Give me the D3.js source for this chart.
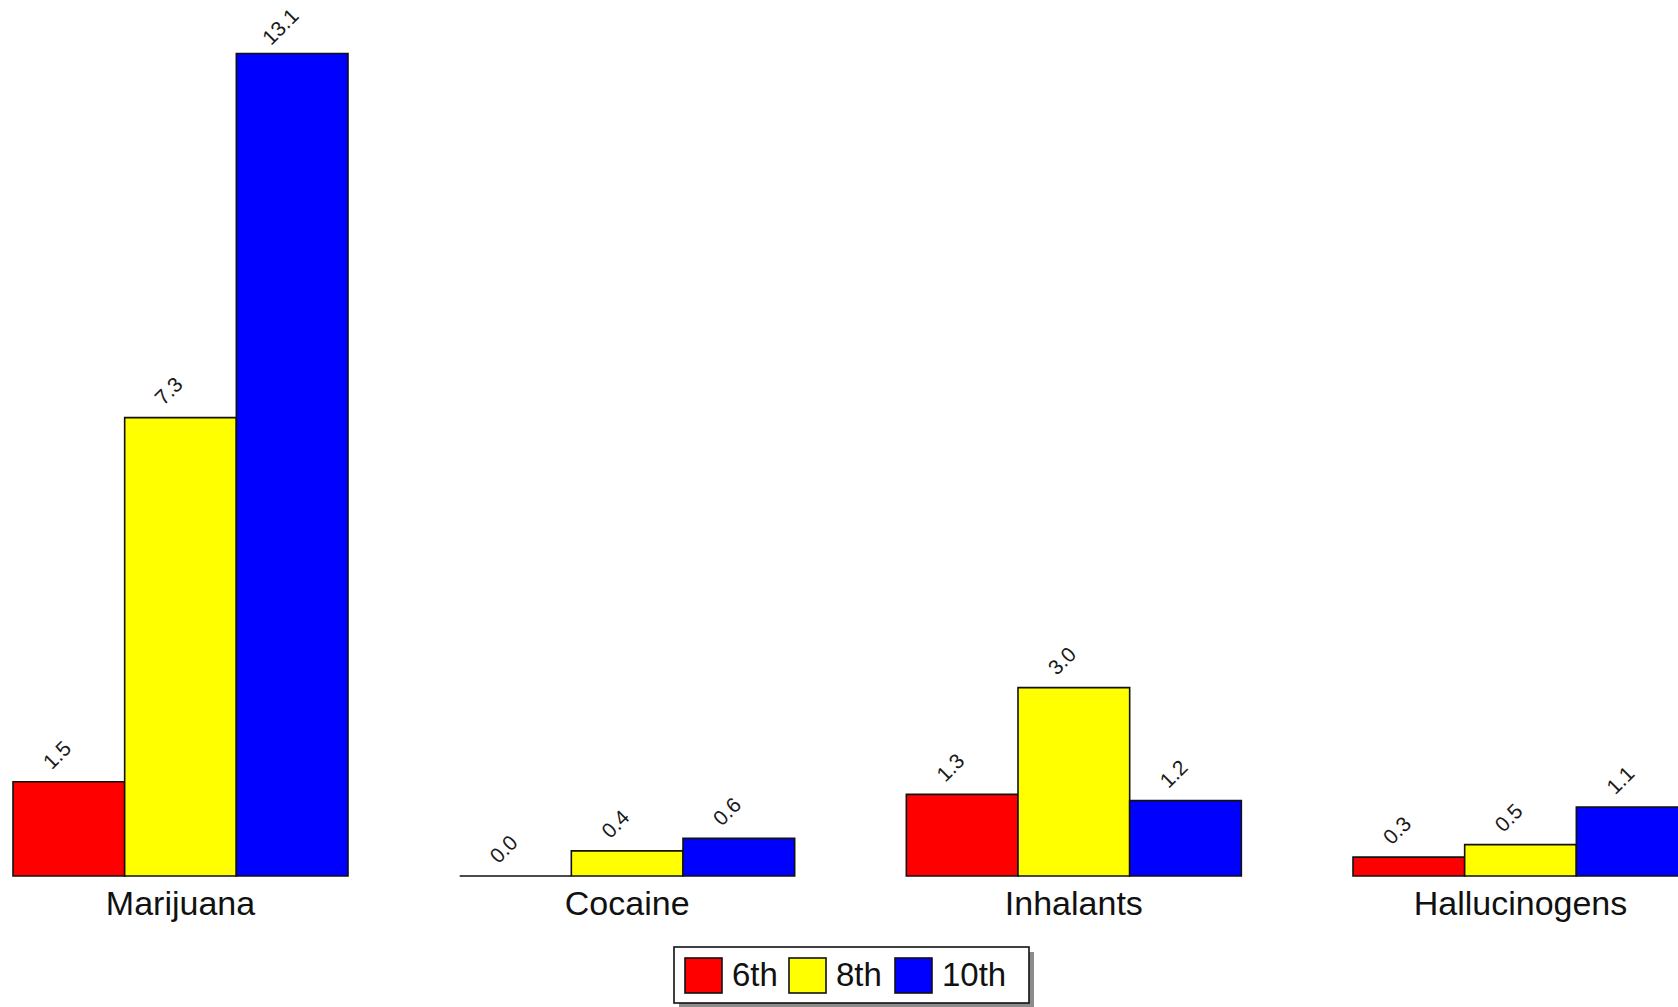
<!DOCTYPE html>
<html>
<head>
<meta charset="utf-8">
<script src="https://cdn.jsdelivr.net/npm/d3@7"></script>
<style>
  html, body { margin: 0; padding: 0; background: #fff; }
  svg { display: block; }
  text { font-family: "Liberation Sans", Arial, sans-serif; }
</style>
</head>
<body>
<svg id="chart" width="1678" height="1007"></svg>
<script>
// Substance use by grade (percent)
const categories = ["Marijuana", "Cocaine", "Inhalants", "Hallucinogens"];
const grades = ["6th", "8th", "10th"];
const grade6 = [1.5, 0.0, 1.3, 0.3];
const grade8 = [7.3, 0.4, 3.0, 0.5];
const grade10 = [13.1, 0.6, 1.2, 1.1];
const colors = ["#ff0000", "#ffff00", "#0000ff"];

const series = [grade6, grade8, grade10];
const rows = categories.map((c, i) => ({
  category: c,
  values: grades.map((g, j) => ({ grade: g, value: series[j][i], color: colors[j] }))
}));

const svg = d3.select("#chart");

const x0 = d3.scaleBand()
  .domain(categories)
  .range([13, 1688])
  .paddingInner(0.25)
  .paddingOuter(0);

const x1 = d3.scaleBand()
  .domain(grades)
  .range([0, x0.bandwidth()])
  .padding(0);

const y = d3.scaleLinear()
  .domain([0, d3.max(grade10)])
  .range([876, 53.5]);

const groups = svg.append("g")
  .selectAll("g")
  .data(rows)
  .join("g")
  .attr("transform", d => `translate(${x0(d.category)},0)`);

// bars drawn as closed paths so a zero value still shows its outline
groups.selectAll("path.bar")
  .data(d => d.values)
  .join("path")
  .attr("class", "bar")
  .attr("d", d => {
    const xa = x1(d.grade), xb = xa + x1.bandwidth();
    const y0 = y(0), yv = y(d.value);
    return `M${xa},${y0}V${yv}H${xb}V${y0}Z`;
  })
  .attr("fill", d => d.color)
  .attr("stroke", "#111")
  .attr("stroke-width", 1.6);

// value labels, rotated
groups.selectAll("text.val")
  .data(d => d.values)
  .join("text")
  .attr("class", "val")
  .attr("transform", d => {
    const cx = x1(d.grade) + x1.bandwidth() / 2 - 12;
    const cy = y(d.value) - 27;
    return `translate(${cx},${cy}) rotate(-45)`;
  })
  .attr("text-anchor", "middle")
  .attr("dominant-baseline", "central")
  .attr("font-size", 21)
  .attr("fill", "#1a1a1a")
  .text(d => d3.format(".1f")(d.value));

// category axis labels
const xAxis = d3.axisBottom(x0).tickSize(0).tickPadding(0);
const axisG = svg.append("g")
  .attr("transform", `translate(0,${y(0)})`)
  .call(xAxis);
axisG.select(".domain").remove();
axisG.selectAll("text")
  .attr("font-size", 34)
  .attr("fill", "#111")
  .attr("dy", null)
  .attr("y", 39)
  .style("font-family", '"Liberation Sans", Arial, sans-serif');

// legend
const legend = svg.append("g").attr("transform", "translate(674,947)");
const lw = 355, lh = 56;
legend.append("rect")
  .attr("x", 5).attr("y", 5).attr("width", lw).attr("height", lh)
  .attr("fill", "#8c8c8c");
legend.append("rect")
  .attr("x", 0).attr("y", 0).attr("width", lw).attr("height", lh)
  .attr("fill", "#fff").attr("stroke", "#111").attr("stroke-width", 1.6);

const itemX = [11, 115, 221];
const items = legend.selectAll("g.item")
  .data(grades.map((g, i) => ({ grade: g, color: colors[i], x: itemX[i] })))
  .join("g")
  .attr("class", "item")
  .attr("transform", d => `translate(${d.x},11)`);
items.append("rect")
  .attr("width", 37).attr("height", 35)
  .attr("fill", d => d.color)
  .attr("stroke", "#111").attr("stroke-width", 1.6);
items.append("text")
  .attr("x", 47).attr("y", 28)
  .attr("font-size", 33)
  .attr("fill", "#111")
  .text(d => d.grade);
</script>
</body>
</html>
